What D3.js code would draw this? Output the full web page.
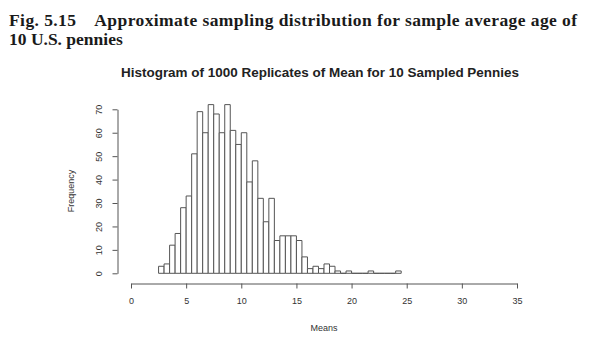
<!DOCTYPE html>
<html>
<head>
<meta charset="utf-8">
<script src="https://cdn.jsdelivr.net/npm/d3@7"></script>
<style>
  html, body { margin: 0; padding: 0; background: #fff; }
  svg { display: block; }
</style>
</head>
<body>
<svg id="chart" width="590" height="350"></svg>
<script>
// Histogram bins (left edge of each 0.5-wide bin) and counts
const binStarts = [2.5, 3, 3.5, 4, 4.5, 5, 5.5, 6, 6.5, 7, 7.5, 8, 8.5, 9, 9.5, 10,
  10.5, 11, 11.5, 12, 12.5, 13, 13.5, 14, 14.5, 15, 15.5, 16, 16.5, 17, 17.5, 18,
  18.5, 19, 19.5, 20, 20.5, 21, 21.5, 22, 22.5, 23, 23.5, 24];
const counts = [3, 4, 12, 17, 28, 33, 51, 69, 60, 72, 68, 60, 72, 61, 55, 60,
  39, 48, 32, 22, 32, 14, 16, 16, 16, 14, 7, 2, 3, 2, 4, 3,
  1, 0, 1, 0, 0, 0, 1, 0, 0, 0, 0, 1];
const binWidth = 0.5;
const xTicks = [0, 5, 10, 15, 20, 25, 30, 35];
const yTicks = [0, 10, 20, 30, 40, 50, 60, 70];

const captionLine1 = "Fig. 5.15\u2003Approximate sampling distribution for sample average age of";
const captionLine2 = "10 U.S. pennies";
const chartTitle = "Histogram of 1000 Replicates of Mean for 10 Sampled Pennies";
const xLabel = "Means";
const yLabel = "Frequency";

const svg = d3.select("#chart");

// Caption
svg.append("text")
  .attr("x", 9).attr("y", 26)
  .attr("font-family", "'Liberation Serif', serif")
  .attr("font-weight", "bold")
  .attr("font-size", 17.5)
  .attr("fill", "#1a1a1a")
  .attr("textLength", 568)
  .attr("lengthAdjust", "spacing")
  .text(captionLine1);
svg.append("text")
  .attr("x", 9).attr("y", 45)
  .attr("font-family", "'Liberation Serif', serif")
  .attr("font-weight", "bold")
  .attr("font-size", 17.5)
  .attr("fill", "#1a1a1a")
  .text(captionLine2);

// Scales
const x = d3.scaleLinear().domain([0, 35]).range([131, 517]);
const y = d3.scaleLinear().domain([0, 70]).range([273.3, 109.3]);

// Title
svg.append("text")
  .attr("x", 320).attr("y", 77)
  .attr("text-anchor", "middle")
  .attr("font-family", "'Liberation Sans', Arial, sans-serif")
  .attr("font-weight", "bold")
  .attr("font-size", 13.2)
  .attr("fill", "#222")
  .attr("textLength", 398)
  .attr("lengthAdjust", "spacingAndGlyphs")
  .text(chartTitle);

// Bars (paths so that empty bins still draw as a baseline segment)
const bins = binStarts.map((b, i) => ({ x0: b, x1: b + binWidth, n: counts[i] }));
svg.append("g")
  .selectAll("path")
  .data(bins)
  .join("path")
  .attr("d", d => `M${x(d.x0)},${y(0)}V${y(d.n)}H${x(d.x1)}V${y(0)}Z`)
  .attr("fill", "#fff")
  .attr("stroke", "#555")
  .attr("stroke-width", 1);

// X axis
const xAxis = svg.append("g")
  .attr("transform", "translate(0,283.5)")
  .call(d3.axisBottom(x).tickValues(xTicks).tickSize(5).tickPadding(9).tickSizeOuter(0));
xAxis.select(".domain").attr("stroke", "#555");
xAxis.selectAll(".tick line").attr("stroke", "#555");
xAxis.selectAll("text")
  .attr("font-family", "'Liberation Sans', Arial, sans-serif")
  .attr("font-size", 9)
  .attr("fill", "#333");

// Y axis
const yAxis = svg.append("g")
  .attr("transform", "translate(117.5,0)")
  .call(d3.axisLeft(y).tickValues(yTicks).tickSize(5).tickSizeOuter(0));
yAxis.select(".domain").attr("stroke", "#555");
yAxis.selectAll(".tick line").attr("stroke", "#555");
yAxis.selectAll(".tick text")
  .attr("x", 0).attr("dx", 0)
  .attr("text-anchor", "middle")
  .attr("transform", "translate(-19,0) rotate(-90)")
  .attr("dy", "0.35em")
  .attr("font-family", "'Liberation Sans', Arial, sans-serif")
  .attr("font-size", 9)
  .attr("fill", "#333");

// Axis labels
svg.append("text")
  .attr("x", 324).attr("y", 331)
  .attr("text-anchor", "middle")
  .attr("font-family", "'Liberation Sans', Arial, sans-serif")
  .attr("font-size", 9)
  .attr("fill", "#333")
  .text(xLabel);
svg.append("text")
  .attr("transform", "translate(71,191) rotate(-90)")
  .attr("text-anchor", "middle")
  .attr("dy", "0.35em")
  .attr("font-family", "'Liberation Sans', Arial, sans-serif")
  .attr("font-size", 9)
  .attr("fill", "#333")
  .text(yLabel);
</script>
</body>
</html>
